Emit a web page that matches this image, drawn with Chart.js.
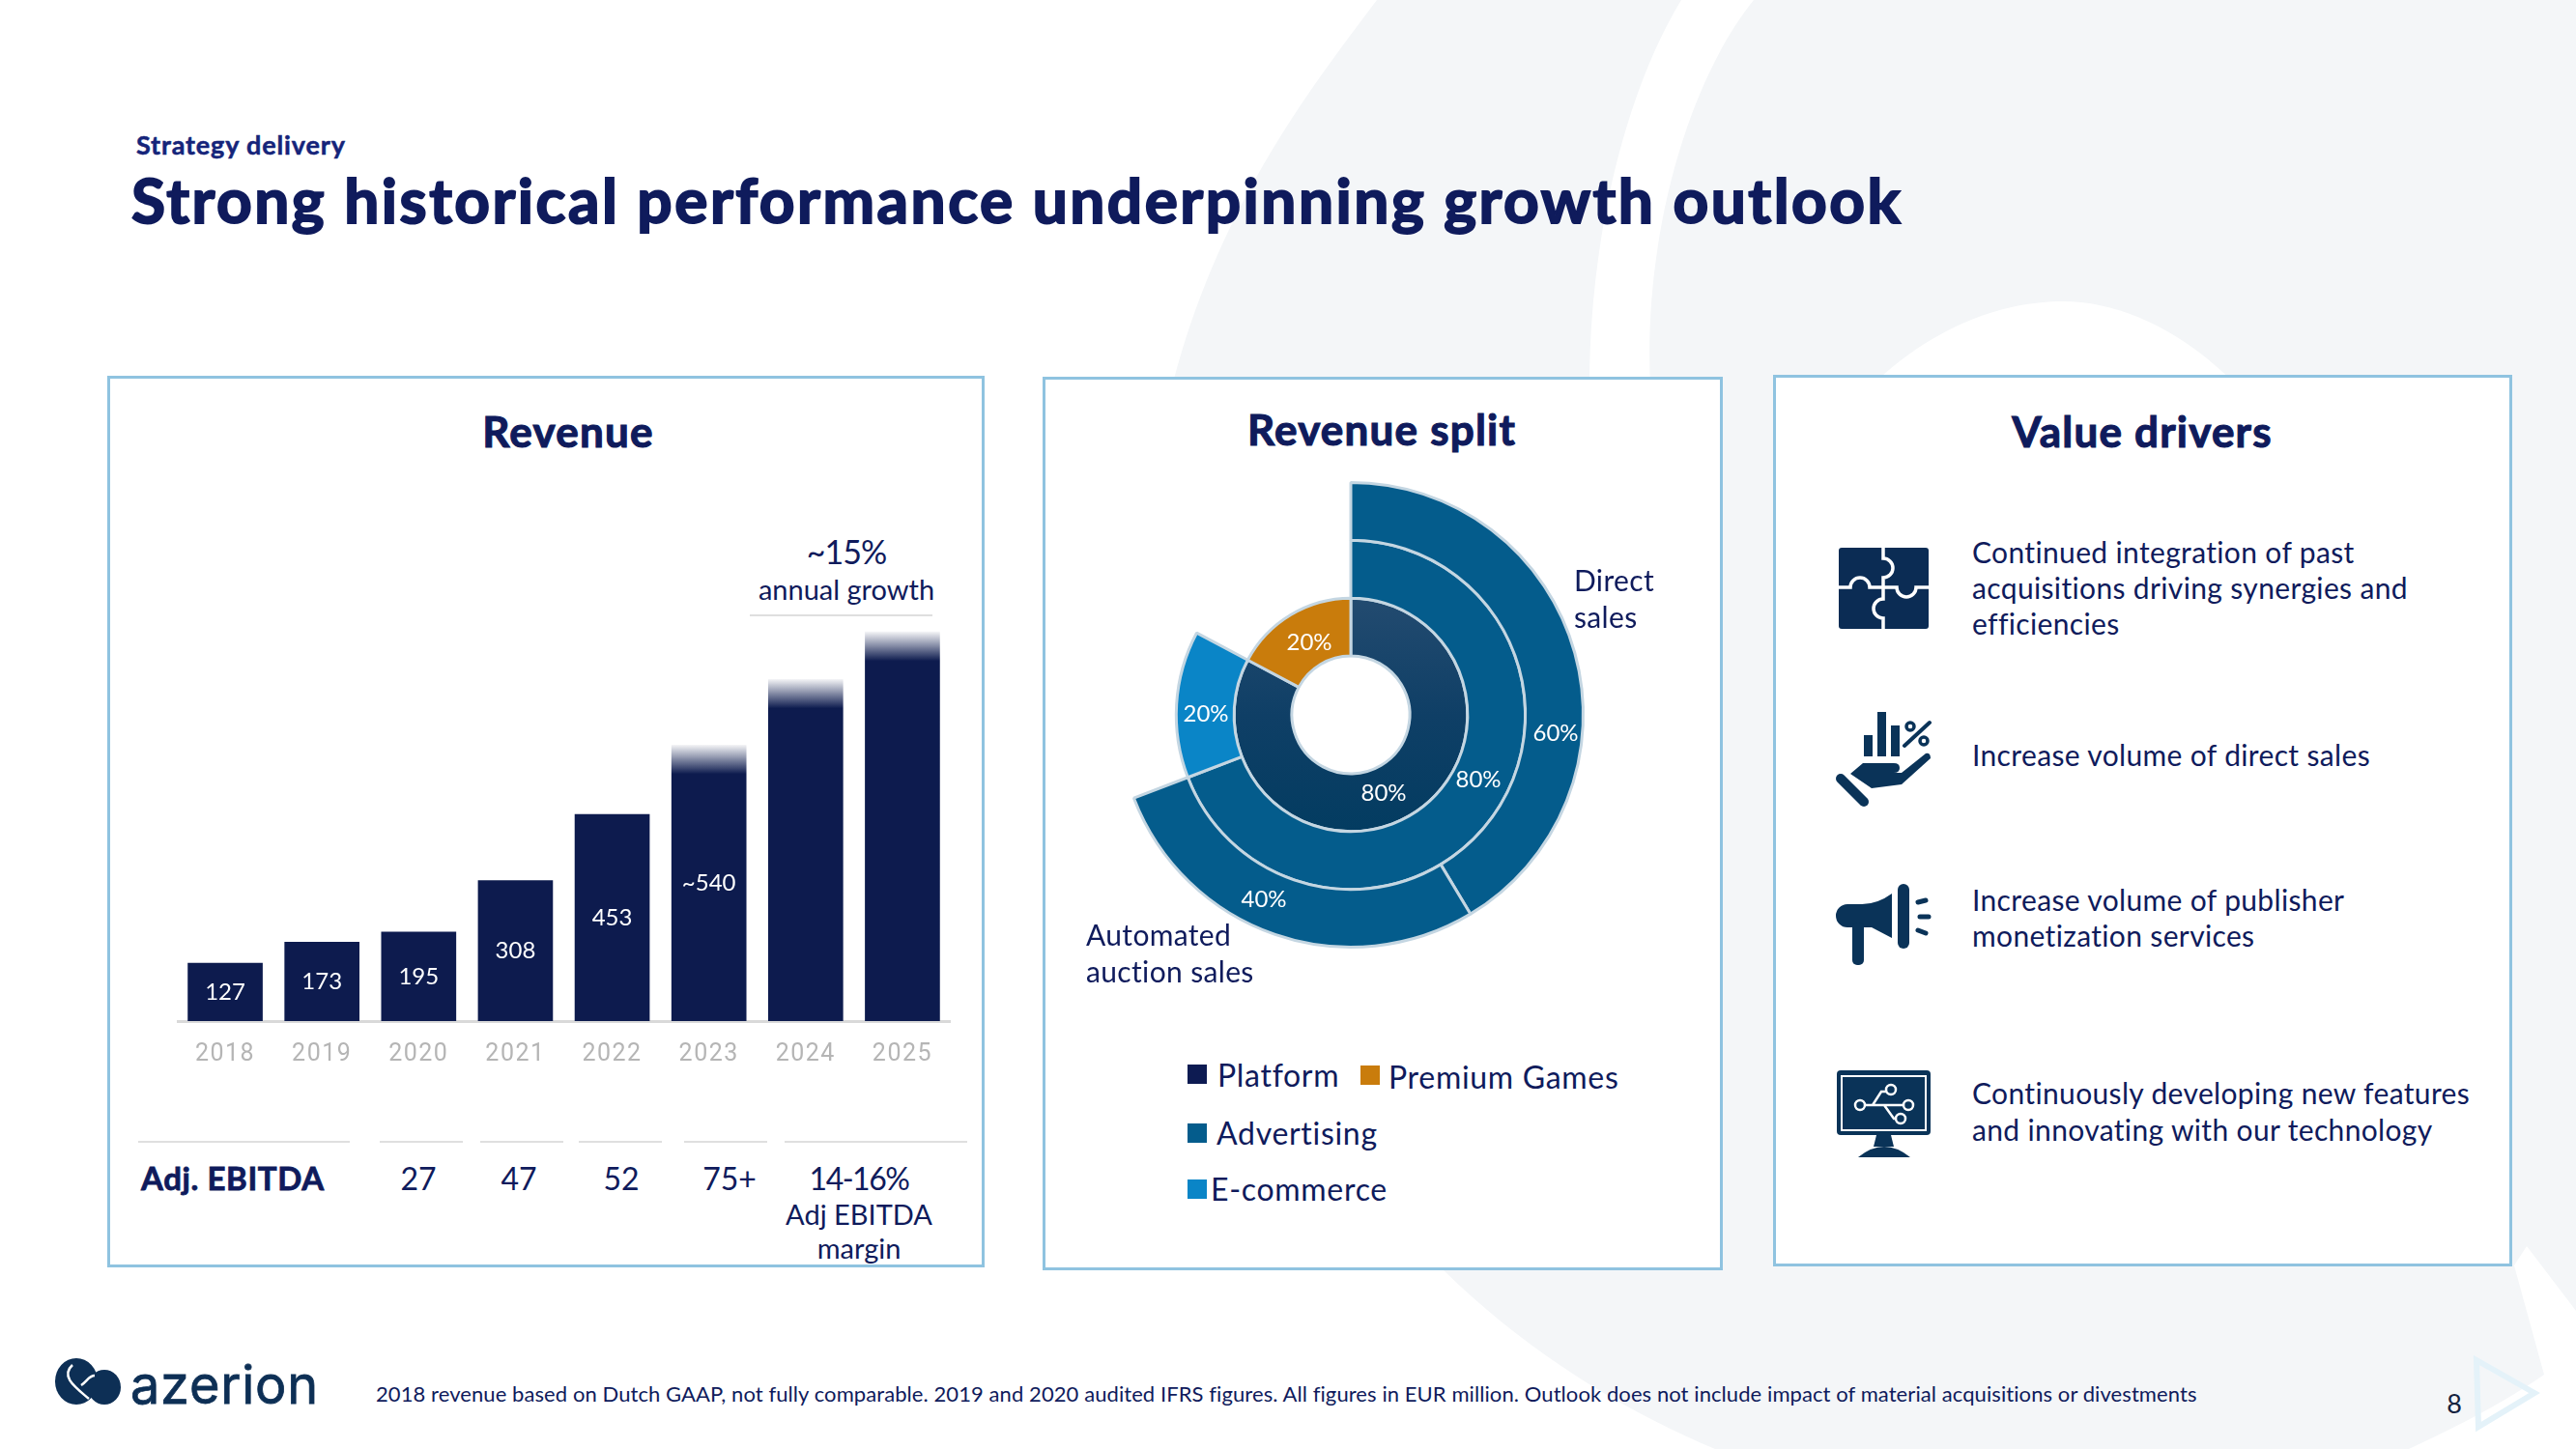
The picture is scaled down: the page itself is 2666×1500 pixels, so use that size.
<!DOCTYPE html>
<html>
<head>
<meta charset="utf-8">
<title>Strong historical performance underpinning growth outlook</title>
<script src="https://cdn.jsdelivr.net/npm/chart.js@4"></script>
<style>
  html, body { margin: 0; padding: 0; background: #fff; }
  #page { position: relative; width: 2666px; height: 1500px; overflow: hidden; font-family: Lato, sans-serif; color: #0f1b5c; }
  #page svg { position: absolute; left: 0; top: 0; }
  .panel { position: absolute; box-sizing: border-box; border: 3px solid #8fc3e0; background: #fff; }
  .t { position: absolute; white-space: nowrap; line-height: 1; transform: translateY(-50%); }
  .c { transform: translate(-50%, -50%); }
  .b { font-weight: 700; }
  .h { font-size: 44px; letter-spacing: 1.2px; -webkit-text-stroke: 1.1px #0f1b5c; }
  .w { color: #fff; font-size: 24px; }
  .d { font-size: 30px; letter-spacing: 0.35px; }
  .l { font-size: 32px; letter-spacing: 0.7px; }
  .rule { position: absolute; height: 2px; background: #dfdfdf; }
  .sw { position: absolute; width: 20px; height: 20px; }
  canvas { position: absolute; }
</style>
</head>
<body>
<div id="page">
  <svg width="2666" height="1500">
    <path fill="#f4f6f8" d="M1425 0 C1350 100 1240 240 1200 460 C1200 900 1350 1180 1492 1313 C1580 1400 1680 1460 1775 1500 L2493 1500 Q2580 1460 2633 1423 L2602 1310 L2615 1290 L2666 1357 L2666 0 Z"/>
    <path fill="#fff" d="M1740 0 L1815 0 C1750 80 1700 240 1708 400 L1708 500 L1645 500 L1645 400 C1645 240 1685 90 1740 0 Z"/>
    <path fill="#fff" d="M1900 440 C1980 340 2070 312 2135 312 C2210 312 2290 360 2350 440 Z"/>
  </svg>

  <div class="t b" style="left:141px;top:149px;font-size:27px;color:#15247a;letter-spacing:0.85px;-webkit-text-stroke:0.5px #15247a">Strategy delivery</div>
  <div class="t b" style="left:136px;top:207px;font-size:64px;letter-spacing:2.5px;-webkit-text-stroke:2px #0f1b5c">Strong historical performance underpinning growth outlook</div>

  <div class="panel" style="left:111px;top:389px;width:908px;height:923px"></div>
  <div class="panel" style="left:1079px;top:390px;width:704px;height:925px"></div>
  <div class="panel" style="left:1835px;top:388px;width:765px;height:923px"></div>

  <div class="t c b h" style="left:588px;top:446px">Revenue</div>
  <div class="t c b h" style="left:1430px;top:444px">Revenue split</div>
  <div class="t c b h" style="left:2217px;top:446px">Value drivers</div>

  <canvas id="revenueChart" width="801" height="475" style="left:183px;top:632px"></canvas>
  <canvas id="splitChart" width="520" height="520" style="left:1138px;top:480px"></canvas>

  <div class="t c" style="left:876px;top:571px;font-size:34px;letter-spacing:-1px">~15%</div>
  <div class="t c" style="left:876px;top:609px;font-size:29px">annual growth</div>
  <div class="rule" style="left:776px;top:636px;width:189px"></div>

  <div id="ebitdaRow"></div>

  <div class="t d" style="left:1629px;top:600px">Direct</div>
  <div class="t d" style="left:1629px;top:638px">sales</div>
  <div class="t d" style="left:1124px;top:967px">Automated</div>
  <div class="t d" style="left:1124px;top:1005px">auction sales</div>

  <div class="t c w" style="left:1432px;top:820px">80%</div>
  <div class="t c w" style="left:1530px;top:806px">80%</div>
  <div class="t c w" style="left:1610px;top:758px">60%</div>
  <div class="t c w" style="left:1308px;top:930px">40%</div>
  <div class="t c w" style="left:1355px;top:664px">20%</div>
  <div class="t c w" style="left:1248px;top:738px">20%</div>

  <div class="sw" style="left:1229px;top:1102px;background:#0d1b52"></div>
  <div class="t l" style="left:1260px;top:1113px">Platform</div>
  <div class="sw" style="left:1408px;top:1103px;background:#c97c0c"></div>
  <div class="t l" style="left:1437px;top:1115px">Premium Games</div>
  <div class="sw" style="left:1229px;top:1163px;background:#045c8c"></div>
  <div class="t l" style="left:1259px;top:1173px">Advertising</div>
  <div class="sw" style="left:1229px;top:1221px;background:#0a85c7"></div>
  <div class="t l" style="left:1253px;top:1231px">E-commerce</div>

  <div class="t d" style="left:2041px;top:571px">Continued integration of past</div>
  <div class="t d" style="left:2041px;top:608px">acquisitions driving synergies and</div>
  <div class="t d" style="left:2041px;top:645px">efficiencies</div>
  <div class="t d" style="left:2041px;top:781px">Increase volume of direct sales</div>
  <div class="t d" style="left:2041px;top:931px">Increase volume of publisher</div>
  <div class="t d" style="left:2041px;top:968px">monetization services</div>
  <div class="t d" style="left:2041px;top:1131px">Continuously developing new features</div>
  <div class="t d" style="left:2041px;top:1169px">and innovating with our technology</div>

  <div class="t" style="left:389px;top:1443px;font-size:22px;letter-spacing:0.08px">2018 revenue based on Dutch GAAP, not fully comparable. 2019 and 2020 audited IFRS figures. All figures in EUR million. Outlook does not include impact of material acquisitions or divestments</div>
  <div class="t c" style="left:2540px;top:1452px;font-size:27px;color:#14233f">8</div>
  <div class="t" style="left:135px;top:1434px;font-family:Inter;font-size:54px;color:#0d2f55;letter-spacing:0.8px;-webkit-text-stroke:0.8px #0d2f55">azerion</div>

  <svg width="2666" height="1500" style="pointer-events:none">
    <!-- logo mark -->
    <ellipse cx="79" cy="1430" rx="22" ry="24" fill="#0d2f55"/>
    <ellipse cx="108" cy="1436" rx="17" ry="18" fill="#0d2f55"/>
    <path d="M75 1413 C62 1425 78 1436 92 1448 M84 1434 C90 1430 92 1424 98 1424" fill="none" stroke="#fff" stroke-width="2.5"/>
    <!-- page marker -->
    <path d="M2563 1408 L2623 1442 L2565 1477 Z" fill="none" stroke="#e4f2f9" stroke-width="6"/>
    <!-- puzzle -->
    <rect x="1903" y="567" width="93" height="84" rx="3" fill="#0b2c54"/>
    <path d="M1949 567 V578 A10 10 0 0 1 1949 598 V620 A10 10 0 0 0 1949 640 V651 M1903 608 H1915 A10 10 0 0 1 1935 608 H1963 A10 10 0 0 0 1983 608 H1996" fill="none" stroke="#fff" stroke-width="3.5"/>
    <!-- hand with bars -->
    <g fill="#0a3358">
      <rect x="1929" y="761" width="9" height="22"/>
      <rect x="1943" y="737" width="9" height="46"/>
      <rect x="1957" y="751" width="9" height="32"/>
      <path d="M1915 801 L1928 790 H1960 Q1966 790 1966 795 Q1966 800 1960 800 H1943 H1968 L1993 780 Q1998 779 1998 785 L1968 812 L1937 816 Z"/>
      <path d="M1971 772 L1997 748" stroke="#0a3358" stroke-width="4" stroke-linecap="round"/>
    </g>
    <path d="M1905 806 L1929 830" stroke="#0a3358" stroke-width="10" stroke-linecap="round"/>
    <circle cx="1977" cy="752" r="4" fill="none" stroke="#0a3358" stroke-width="3.5"/>
    <circle cx="1991" cy="767" r="4" fill="none" stroke="#0a3358" stroke-width="3.5"/>
    <!-- megaphone -->
    <g fill="#0a3358">
      <path d="M1912 936 H1927 Q1943 936 1958 925 V971 L1937 960 H1912 A12 12 0 0 1 1912 936 Z"/>
      <rect x="1917" y="955" width="12" height="44" rx="5"/>
      <rect x="1964" y="915" width="12" height="67" rx="6"/>
    </g>
    <path d="M1985 934 L1993 932 M1987 949 H1996 M1985 963 L1993 966" stroke="#0a3358" stroke-width="5" stroke-linecap="round"/>
    <!-- monitor -->
    <rect x="1901" y="1108" width="97" height="67" rx="4" fill="#0a3358"/>
    <rect x="1906" y="1114" width="87" height="56" fill="#0a3358" stroke="#fff" stroke-width="2"/>
    <path d="M1942 1175 H1957 L1960 1187 H1939 Z M1923 1198 Q1950 1176 1977 1198 Z" fill="#0a3358"/>
    <path d="M1930 1144 H1970 M1938 1144 L1947 1130 H1952 M1950 1144 L1960 1158 H1962" fill="none" stroke="#fff" stroke-width="2.5"/>
    <g fill="#0a3358" stroke="#fff" stroke-width="2.5">
      <circle cx="1925" cy="1144" r="5"/>
      <circle cx="1957" cy="1128" r="5"/>
      <circle cx="1975" cy="1144" r="5"/>
      <circle cx="1967" cy="1158" r="5"/>
    </g>
  </svg>
</div>

<script>
// Revenue
const years = ['2018', '2019', '2020', '2021', '2022', '2023', '2024', '2025'];
const barHeights = [127, 173, 195, 308, 453, 605, 749, 853]; // bar tops as drawn, outlook bars overshoot their label
const barLabels = ['127', '173', '195', '308', '453', '~540', '', ''];
const fadedBars = ['2023', '2024', '2025'];

// Adj. EBITDA row
const ebitdaLabels = ['27', '47', '52', '75+', '14-16%'];

// Revenue split, sweep of each slice in degrees as drawn (last one of a ring is the empty gap)
const splitInner = [298, 62];
const splitMiddle = [249, 49, 62];
const splitOuter = [149, 100, 111];
const splitInnerNames = ['Platform', 'Premium Games'];
const splitMiddleNames = ['Advertising', 'E-commerce', ''];
const splitOuterNames = ['Direct sales', 'Automated auction sales', ''];

const navy = '#0d1b4e';

// EBITDA row
const ebitdaRow = document.getElementById('ebitdaRow');
const ebitdaX = [433, 537, 643, 755, 889];
const ruleSpans = [[143, 362], [393, 479], [497, 583], [599, 685], [708, 794], [812, 1001]];
function addText(parent, text, css) {
  const el = document.createElement('div');
  el.className = 't c';
  el.style.cssText = css;
  el.textContent = text;
  parent.appendChild(el);
}
for (const span of ruleSpans) {
  const r = document.createElement('div');
  r.className = 'rule';
  r.style.cssText = `left:${span[0]}px;top:1181px;width:${span[1] - span[0]}px`;
  ebitdaRow.appendChild(r);
}
const head = document.createElement('div');
head.className = 't b';
head.style.cssText = 'left:146px;top:1219px;font-size:33px;letter-spacing:0.6px;-webkit-text-stroke:0.8px #0f1b5c';
head.textContent = 'Adj. EBITDA';
ebitdaRow.appendChild(head);
ebitdaLabels.forEach((txt, i) => {
  const squeeze = txt.length > 3 ? 'letter-spacing:-1.5px;' : '';
  addText(ebitdaRow, txt, `left:${ebitdaX[i]}px;top:1220px;font-size:32px;${squeeze}`);
});
addText(ebitdaRow, 'Adj EBITDA', 'left:889px;top:1256px;font-size:29px');
addText(ebitdaRow, 'margin', 'left:889px;top:1291px;font-size:29px');

// Bar labels in the middle of each bar, and letter spacing for the year ticks
const barLabelPlugin = {
  id: 'barLabels',
  beforeDraw(chart) {
    chart.ctx.letterSpacing = '1.5px';
  },
  afterDatasetsDraw(chart) {
    const ctx = chart.ctx;
    const meta = chart.getDatasetMeta(0);
    ctx.save();
    ctx.letterSpacing = '0px';
    ctx.fillStyle = '#fff';
    ctx.font = '24px Lato';
    ctx.textAlign = 'center';
    ctx.textBaseline = 'middle';
    meta.data.forEach((bar, i) => {
      ctx.fillText(barLabels[i], bar.x, (bar.y + bar.base) / 2);
    });
    ctx.restore();
  }
};

new Chart(document.getElementById('revenueChart'), {
  type: 'bar',
  data: {
    labels: years,
    datasets: [{
      data: barHeights,
      barThickness: 77,
      backgroundColor(c) {
        const y = c.chart.scales.y;
        if (!y || !fadedBars.includes(years[c.dataIndex])) return navy;
        const top = y.getPixelForValue(barHeights[c.dataIndex]);
        const g = c.chart.ctx.createLinearGradient(0, top, 0, top + 30);
        g.addColorStop(0, 'rgba(13,27,78,0.05)');
        g.addColorStop(1, navy);
        return g;
      }
    }]
  },
  options: {
    responsive: false,
    animation: false,
    layout: { padding: 0 },
    plugins: { legend: { display: false }, tooltip: { enabled: false } },
    scales: {
      y: { display: false, min: 0, max: 900 },
      x: {
        afterFit(scale) { scale.height = 50; },
        grid: { display: false, drawTicks: false },
        border: { color: '#d9d9d9', width: 3 },
        ticks: { color: '#b5b5b5', font: { family: 'Roboto', size: 25 }, padding: 20, maxRotation: 0 }
      }
    }
  },
  plugins: [barLabelPlugin]
});

// Revenue split
const splitCtx = document.getElementById('splitChart');
function middleFill(c) {
  return ['#045c8c', '#0a85c7', 'rgba(0,0,0,0)'][c.dataIndex];
}
function innerFill(c) {
  if (c.dataIndex === 1) return '#c97c0c';
  const a = c.chart.chartArea;
  if (!a) return '#0f3d63';
  const g = c.chart.ctx.createLinearGradient(0, a.top + 120, 0, a.bottom - 120);
  g.addColorStop(0, '#234b70');
  g.addColorStop(0.5, '#0f3f66');
  g.addColorStop(1, '#033c61');
  return g;
}
const ringBorder = c => (c.dataset.names[c.dataIndex] === '' ? 0 : 3);
new Chart(splitCtx, {
  type: 'doughnut',
  data: {
    labels: ['a', 'b', 'c'],
    datasets: [
      { data: splitOuter, names: splitOuterNames, backgroundColor: ['#045c8c', '#045c8c', 'rgba(0,0,0,0)'] },
      { data: splitMiddle, names: splitMiddleNames, backgroundColor: middleFill },
      { data: splitInner, names: splitInnerNames, backgroundColor: innerFill }
    ]
  },
  options: {
    responsive: false,
    animation: false,
    cutout: 61,
    layout: { padding: 18 },
    elements: { arc: { borderColor: '#c4d6e2', borderWidth: ringBorder, borderAlign: 'center' } },
    plugins: { legend: { display: false }, tooltip: { enabled: false } }
  }
});
</script>
</body>
</html>
